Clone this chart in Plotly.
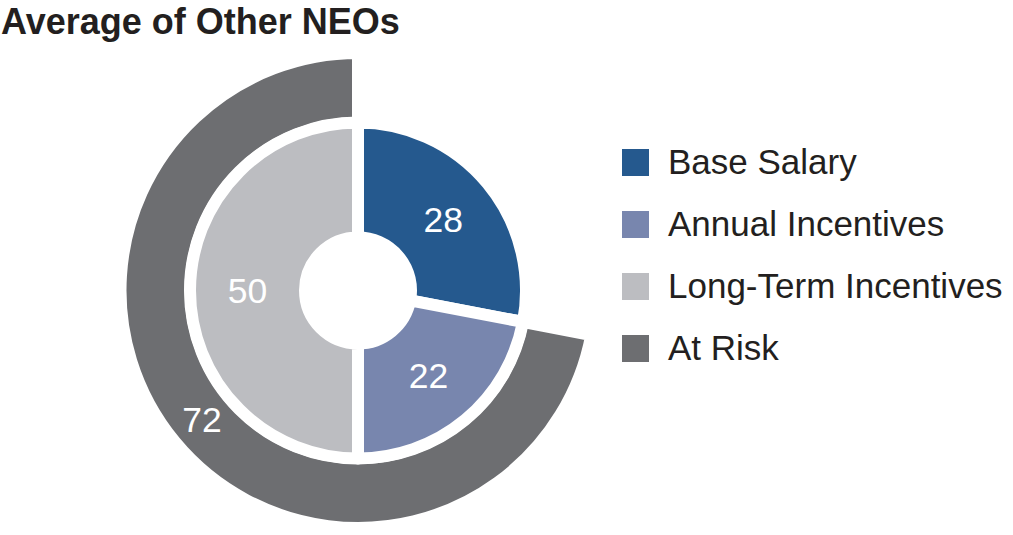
import plotly.graph_objects as go

# ---- data ----
title_text = "Average of Other NEOs"
inner_labels = ["Base Salary", "Annual Incentives", "Long-Term Incentives"]
inner_values = [28, 22, 50]
outer_labels = ["Fixed", "At Risk"]
outer_values = [28, 72]
legend_labels = ["Base Salary", "Annual Incentives", "Long-Term Incentives", "At Risk"]

# ---- styles ----
inner_colors = ["#25598E", "#7886AE", "#BCBDC1"]
outer_colors = ["rgba(0,0,0,0)", "#6D6E71"]
legend_colors = ["#25598E", "#7886AE", "#BCBDC1", "#6D6E71"]
FONT = "Liberation Sans, Arial, Helvetica, sans-serif"
W, H = 1013, 535
GAP = 12


def px_dom(cx, cy, r):
    return dict(x=[(cx - r) / W, (cx + r) / W], y=[1 - (cy + r) / H, 1 - (cy - r) / H])


cx, cy = 358, 290.5
outer_R = 231.5 + GAP / 2
outer_hole = 173.5 - GAP / 2
inner_R = 162 + GAP / 2
inner_hole = 59 - GAP / 2

fig = go.Figure()

fig.add_trace(go.Pie(
    labels=outer_labels, values=outer_values, sort=False, direction="clockwise", rotation=0,
    hole=outer_hole / outer_R, domain=px_dom(cx, cy, outer_R),
    marker=dict(colors=outer_colors, line=dict(color="white", width=[0, GAP])),
    texttemplate=["", "%{value}"], textposition="inside", insidetextorientation="horizontal",
    textfont=dict(family=FONT, size=35.5, color="white"),
    showlegend=False, hoverinfo="label+value",
))

fig.add_trace(go.Pie(
    labels=inner_labels, values=inner_values, sort=False, direction="clockwise", rotation=0,
    hole=inner_hole / inner_R, domain=px_dom(cx, cy, inner_R),
    marker=dict(colors=inner_colors, line=dict(color="white", width=GAP)),
    texttemplate="%{value}", textposition="inside", insidetextorientation="horizontal",
    textfont=dict(family=FONT, size=35.5, color="white"),
    showlegend=False, hoverinfo="label+value",
))

# manual legend
shapes = []
annotations = []
leg_x0, sq = 622, 27
leg_y0, leg_dy = 162.5, 62
for i, (lab, col) in enumerate(zip(legend_labels, legend_colors)):
    yc = leg_y0 + i * leg_dy
    shapes.append(dict(type="rect", xref="paper", yref="paper",
                       x0=leg_x0 / W, x1=(leg_x0 + sq) / W,
                       y0=1 - (yc + sq / 2) / H, y1=1 - (yc - sq / 2) / H,
                       fillcolor=col, line=dict(width=0)))
    annotations.append(dict(text=lab, xref="paper", yref="paper", x=666 / W, y=1 - yc / H,
                            xanchor="left", yanchor="middle", showarrow=False, yshift=1,
                            font=dict(family=FONT, size=35, color="#231F20")))

annotations.append(dict(text="<b>" + title_text + "</b>", xref="paper", yref="paper", x=0, y=1,
                        xanchor="left", yanchor="top", showarrow=False, borderpad=0,
                        font=dict(family=FONT, size=36, color="#231F20")))

fig.update_layout(
    width=W, height=H, margin=dict(l=0, r=0, t=0, b=0),
    paper_bgcolor="white", plot_bgcolor="white",
    shapes=shapes, annotations=annotations, showlegend=False,
)

fig.write_html("out.html", config={"displayModeBar": False},
               post_script="document.body.style.margin='0';document.body.style.padding='0';")
